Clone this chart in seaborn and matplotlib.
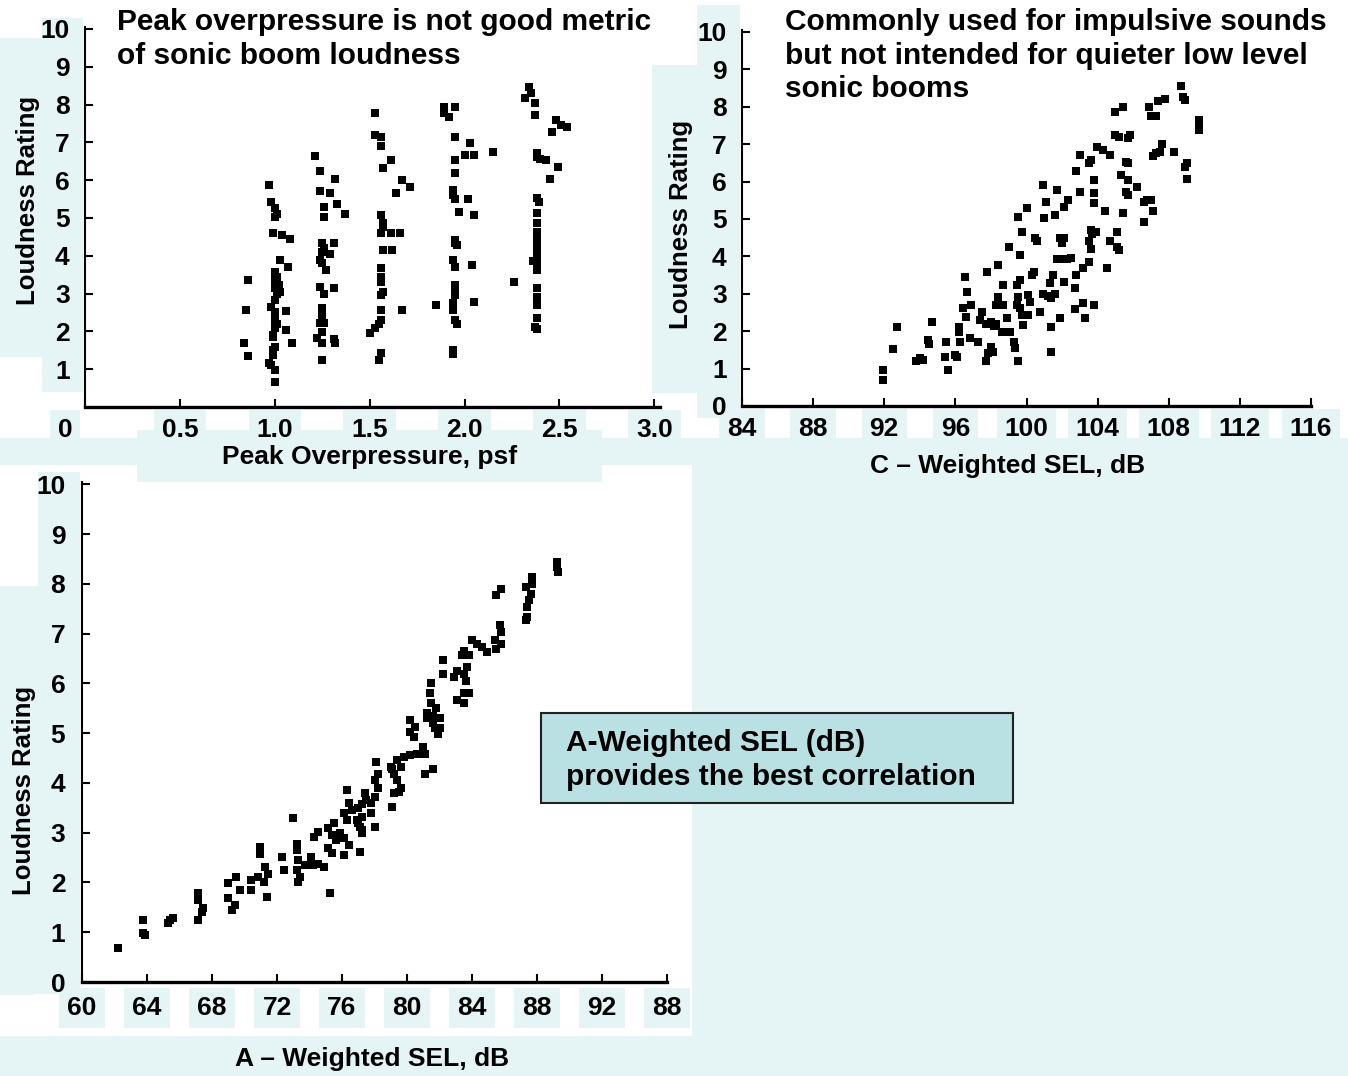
import matplotlib
matplotlib.use("Agg")
import matplotlib.pyplot as plt
import seaborn as sns
from matplotlib.patches import Rectangle
from matplotlib.transforms import ScaledTranslation

sns.set_theme(style="white")
plt.rcParams['font.family'] = ['Liberation Sans', 'DejaVu Sans']
plt.rcParams['font.weight'] = 'bold'

W, H = 1348, 1076
CYAN = '#e5f5f6'
BOX = '#b9e0e3'

# --- data ---
peak_x = [0.97, 0.98, 1.0, 1.0, 1.01, 0.99, 1.04, 1.08, 1.03, 1.07, 1.0, 1.0, 1.02, 1.01, 1.0, 1.03,
          1.0, 0.98, 1.0, 1.0, 0.99, 1.0, 0.99, 0.97, 1.0, 1.0, 0.86, 0.85, 0.84, 0.86, 1.06, 1.06,
          1.09, 0.99, 1.01, 0.98, 1.0, 1.01, 0.99,
          1.21, 1.24, 1.32, 1.24, 1.29, 1.26, 1.33, 1.37, 1.26, 1.25, 1.31, 1.25, 1.29, 1.25, 1.27,
          1.24, 1.31, 1.26, 1.25, 1.25, 1.24, 1.26, 1.25, 1.22, 1.25, 1.32, 1.31, 1.25, 1.25, 1.26, 1.24,
          1.53, 1.53, 1.56, 1.56, 1.61, 1.57, 1.67, 1.71, 1.64, 1.56, 1.57, 1.56, 1.61, 1.66, 1.57,
          1.56, 1.56, 1.57, 1.56, 1.56, 1.67, 1.56, 1.53, 1.50, 1.56, 1.55, 1.57, 1.56, 1.55, 1.62,
          1.89, 1.95, 1.89, 1.92, 1.95, 2.03, 2.05, 2.0, 2.15, 1.95, 1.95, 1.94, 1.95, 2.02, 1.97,
          2.05, 1.95, 1.96, 1.94, 1.95, 2.04, 1.95, 1.95, 1.94, 1.85, 2.05, 1.94, 1.95, 1.94, 1.94,
          1.95, 1.95, 1.96, 1.94,
          2.34, 2.32, 2.37, 2.37, 2.48, 2.54, 2.51, 2.46, 2.38, 2.43, 2.40, 2.49, 2.45, 2.38, 2.39,
          2.38, 2.38, 2.38, 2.38, 2.38, 2.38, 2.36, 2.38, 2.26, 2.38, 2.38, 2.38, 2.38, 2.37, 2.38,
          2.35, 2.38, 2.38, 2.38]
peak_y = [5.87, 5.43, 5.26, 5.03, 5.1, 4.6, 4.55, 4.45, 3.89, 3.7, 3.58, 3.36, 3.22, 3.0, 3.15, 3.05,
          2.83, 2.65, 2.3, 2.09, 1.9, 1.6, 1.38, 1.16, 0.98, 0.67, 3.36, 2.56, 1.70, 1.35, 2.54, 2.04,
          1.69, 1.5, 2.2, 1.1, 2.5, 3.45, 1.85,
          6.64, 6.23, 6.03, 5.72, 5.66, 5.3, 5.36, 5.1, 5.03, 4.33, 4.33, 4.1, 4.05, 3.8, 3.62,
          3.18, 3.14, 3.0, 2.62, 2.48, 2.22, 2.22, 1.99, 1.82, 1.69, 1.69, 1.8, 1.24, 2.35, 4.2, 3.9,
          7.78, 7.2, 7.15, 6.89, 6.53, 6.32, 6.0, 5.82, 5.66, 5.08, 4.87, 4.6, 4.6, 4.6, 4.15,
          3.68, 3.45, 3.05, 2.95, 2.57, 2.57, 2.3, 2.09, 1.96, 1.43, 1.24, 4.75, 3.3, 2.2, 4.15,
          7.94, 7.94, 7.78, 7.68, 7.15, 6.98, 6.67, 6.67, 6.75, 6.53, 6.18, 5.74, 5.5, 5.5, 5.17,
          5.08, 4.42, 4.29, 3.89, 3.71, 3.76, 3.23, 2.96, 2.76, 2.7, 2.79, 2.57, 2.3, 1.5, 1.4,
          4.35, 3.1, 2.2, 5.6,
          8.47, 8.17, 8.04, 7.72, 7.59, 7.41, 7.45, 7.28, 6.72, 6.53, 6.55, 6.35, 6.03, 5.53, 5.43,
          5.12, 4.86, 4.64, 4.42, 4.2, 3.84, 3.86, 3.62, 3.31, 3.14, 2.92, 2.7, 2.35, 2.12, 2.05,
          8.3, 6.62, 3.95, 4.0]

csel_x = [91.95, 91.95, 92.5, 92.74, 93.8, 94.2, 94.0, 94.48, 94.5, 94.67, 95.5, 95.4, 95.6, 96.0, 96.1,
          96.2, 96.2, 96.26, 96.45, 96.6, 96.55, 96.64, 96.8, 96.9, 97.3, 97.48, 97.4, 97.7, 98.0, 98.2,
          98.3, 97.76, 97.86, 97.7, 98.1, 98.0, 98.4, 98.4, 98.3, 98.7, 98.6, 98.9, 98.7, 98.9, 99.1,
          99.27, 99.36, 99.55, 99.45, 99.64, 99.55, 99.45, 99.64, 99.73, 99.8, 99.64, 99.55, 100.0, 99.73,
          99.0, 100.3, 100.4, 100.1, 100.2, 100.5, 100.6, 100.1, 100.77, 100.95, 101.1, 101.0, 100.95,
          101.2, 101.4, 101.6, 101.3, 101.5, 101.4, 101.4, 101.7, 101.6, 101.7, 102.0, 102.3, 102.5,
          101.9, 102.1, 102.0, 102.1, 101.9, 102.36, 102.1, 102.7, 102.8, 103.2, 103.5, 102.7, 103.2,
          103.8, 103.3, 102.8, 103.0, 103.0, 103.5, 103.6, 103.6, 103.7, 103.9, 103.5, 103.6, 103.8,
          103.8, 103.8, 103.95, 104.3, 104.7, 104.4, 104.5, 104.7, 105.1, 105.2, 105.1, 105.0, 105.2,
          105.0, 105.45, 105.3, 105.4, 105.6, 105.7, 105.8, 105.7, 105.7, 105.6, 105.7, 106.2, 106.6,
          106.8, 107.0, 107.1, 106.6, 106.9, 107.0, 107.3, 107.4, 107.8, 107.1, 107.3, 107.5, 107.6,
          108.3, 108.7, 108.8, 108.9, 109.0, 108.9, 109.0, 109.7, 109.7, 109.7]
csel_y = [0.69, 0.96, 1.52, 2.1, 1.2, 1.23, 1.27, 1.76, 1.65, 2.24, 1.72, 1.32, 0.96, 1.37, 1.3,
          1.99, 2.12, 1.72, 2.61, 2.39, 3.46, 3.06, 1.81, 2.7, 1.72, 2.52, 2.3, 2.2, 2.25, 2.15,
          2.2, 3.59, 1.41, 1.19, 1.45, 1.59, 3.77, 2.92, 2.7, 2.7, 1.99, 1.99, 3.24, 2.34, 1.99,
          1.72, 1.54, 1.19, 3.24, 3.37, 2.92, 2.7, 2.61, 2.43, 2.17, 4.04, 5.06, 5.28, 4.66,
          4.26, 3.5, 3.59, 2.97, 2.79, 4.48, 4.4, 2.43, 2.52, 5.91, 5.46, 5.02, 3.0,
          2.95, 2.9, 3.0, 3.28, 3.5, 2.12, 1.45, 5.77, 5.1, 3.93, 3.93, 3.93, 3.95,
          4.5, 4.5, 4.35, 3.32, 2.34, 5.5, 5.33, 3.15, 3.5, 3.7, 3.86, 2.6, 2.75,
          2.7, 2.34, 6.27, 6.71, 5.73, 6.49, 6.58, 4.7, 4.6, 4.65, 4.4, 4.2, 6.04,
          5.69, 5.42, 6.93, 6.84, 6.71, 5.2, 3.68, 4.4, 4.26, 4.17, 4.66, 7.25, 7.2,
          7.87, 7.99, 6.18, 5.15, 6.53, 6.5, 7.25, 7.16, 6.04, 5.73, 5.64, 5.86, 5.46,
          5.51, 5.51, 5.2, 4.93, 8.0, 7.74, 7.74, 8.14, 8.21, 6.67, 6.75, 6.8, 7.0,
          6.8, 8.54, 8.27, 8.18, 6.49, 6.4, 6.07, 7.65, 7.51, 7.38]

asel_x = [62.24, 63.77, 63.77, 63.88, 65.4, 65.6, 65.3, 67.16, 67.16, 67.47, 67.16, 67.4, 69.0, 69.5,
          69.7, 69.0, 69.2, 69.4, 70.4, 70.4, 70.85, 71.26, 71.47, 70.95, 70.95, 71.37, 71.2, 72.3,
          72.4, 73.0, 73.2, 73.2, 73.3, 73.2, 73.4, 73.3, 73.7, 74.1, 74.2, 74.3, 74.5, 74.5, 74.9,
          75.16, 75.4, 75.6, 75.16, 75.4, 76.1, 76.4, 75.26, 76.1, 77.1, 75.5, 75.9, 76.3, 76.4,
          76.6, 76.1, 76.3, 76.9, 77.1, 77.2, 77.4, 77.2, 77.0, 77.2, 77.8, 78.0, 77.5, 77.0, 77.2,
          78.0, 78.2, 78.1, 79.06, 79.06, 78.2, 78.0, 77.8, 79.2, 79.5, 79.6, 79.4, 79.2, 79.0,
          79.6, 79.4, 79.8, 80.2, 80.6, 81.0, 81.1, 81.1, 81.6, 80.2, 80.5, 80.2, 80.4, 81.6,
          81.7, 81.9, 82.0, 81.5, 81.4, 81.5, 81.8, 81.2, 81.6, 82.0, 81.2, 82.2, 82.2, 82.9,
          83.06, 83.5, 83.06, 83.8, 83.5, 83.5, 83.4, 83.8, 83.7, 83.5, 83.6, 84.0, 84.3, 84.6,
          84.9, 85.7, 85.8, 85.8, 85.5, 85.4, 85.8, 85.5, 87.3, 87.7, 87.7, 87.6, 87.5, 87.4,
          87.4, 87.3, 89.2, 89.3, 89.2]
asel_y = [0.68, 1.24, 0.98, 0.94, 1.24, 1.28, 1.18, 1.78, 1.65, 1.48, 1.24, 1.4, 1.98, 2.11,
          1.85, 1.68, 1.45, 1.55, 2.05, 1.85, 2.11, 2.32, 2.18, 2.72, 2.58, 1.71, 2.0, 2.52,
          2.25, 3.29, 2.78, 2.65, 2.45, 2.25, 2.11, 2.0, 2.35, 2.52, 2.35, 2.92, 3.02, 2.38, 2.32,
          3.1, 2.95, 2.85, 2.7, 2.6, 2.9, 2.75, 1.78, 2.55, 2.62, 3.19, 2.99, 3.85, 3.6,
          3.45, 3.39, 3.25, 3.25, 3.12, 3.58, 3.79, 3.32, 3.19, 3.05, 3.39, 3.12, 3.65, 3.49, 2.99,
          4.06, 4.19, 4.42, 4.29, 3.52, 3.89, 3.72, 3.59, 3.79, 3.82, 3.89, 4.06, 4.19, 4.32,
          4.32, 4.46, 4.52, 4.56, 4.59, 4.72, 4.59, 4.19, 4.29, 5.26, 5.13, 5.03, 4.93, 5.2,
          5.1, 4.99, 5.1, 6.0, 5.8, 5.6, 5.5, 5.4, 5.35, 5.3, 5.3, 6.47, 6.2, 6.13,
          6.26, 5.8, 5.66, 5.8, 5.6, 6.66, 6.57, 6.57, 6.33, 6.2, 6.06, 6.87, 6.8, 6.73,
          6.63, 7.17, 7.03, 6.8, 6.7, 6.87, 7.9, 7.77, 7.94, 8.14, 8.0, 7.8, 7.67, 7.54,
          7.33, 7.27, 8.34, 8.24, 8.45]

peak_ticks = [0, 0.5, 1.0, 1.5, 2.0, 2.5, 3.0]
peak_labels = ['0', '0.5', '1.0', '1.5', '2.0', '2.5', '3.0']
csel_ticks = [84, 88, 92, 96, 100, 104, 108, 112, 116]
asel_ticks = [60, 64, 68, 72, 76, 80, 84, 88, 92, 96]
asel_labels = ['60', '64', '68', '72', '76', '80', '84', '88', '92', '88']

fig = plt.figure(figsize=(W / 100, H / 100), dpi=100)
fig.patch.set_facecolor('white')


def pax(l, t, r, b):
    return fig.add_axes([l / W, 1 - b / H, (r - l) / W, (b - t) / H])


def bg(x0, y0, x1, y1, fc=CYAN, ec='none', lw=0, z=-5):
    fig.add_artist(Rectangle((x0 / W, 1 - y1 / H), (x1 - x0) / W, (y1 - y0) / H,
                             transform=fig.transFigure, fc=fc, ec=ec, lw=lw, zorder=z))


def ftext(x, y, s, **kw):
    fig.text(x / W, 1 - y / H, s, color='black', fontweight='bold', **kw)


# light cyan background scraps
for r in [(0, 38, 80, 357), (42, 18, 83, 392), (0, 438, 692, 465), (137, 430, 602, 482),
          (652, 65, 697, 393), (697, 5, 740, 418), (692, 438, 1348, 1076),
          (0, 586, 80, 994), (38, 472, 80, 994), (0, 960, 34, 995), (0, 1036, 692, 1076)]:
    bg(*r)


def style(ax, xlim, ylim, xticks, xlabels, yticks, ylabels, xpad, ypad):
    ax.set_facecolor('none')
    sns.despine(ax=ax)
    ax.set_xlim(xlim)
    ax.set_ylim(ylim)
    ax.set_xticks(xticks, xlabels)
    ax.set_yticks(yticks, ylabels)
    ax.tick_params(direction='in', length=6, width=1.5, color='black', labelsize=19,
                   labelcolor='black', bottom=True, left=True)
    ax.tick_params(axis='x', pad=xpad)
    ax.tick_params(axis='y', pad=ypad)
    for side, lw in [('left', 1.5), ('bottom', 2.4)]:
        ax.spines[side].set_color('black')
        ax.spines[side].set_linewidth(lw)
    for lab in ax.get_xticklabels():
        lab.set_fontweight('bold')
        lab.set_bbox(dict(boxstyle='square,pad=0.3', fc=CYAN, ec='none'))
    for lab in ax.get_yticklabels():
        lab.set_fontweight('bold')
    ax.set_xlabel('')
    ax.set_ylabel('')


mk = dict(marker='s', s=30, color='black', linewidth=0, legend=False)

ax1 = pax(85, 27, 660, 407)
sns.scatterplot(x=peak_x, y=peak_y, ax=ax1, **mk)
style(ax1, (0, 3.03), (0, 10.05), peak_ticks, peak_labels, range(1, 11),
      [str(v) for v in range(1, 11)], 8, 11)
zero = ax1.get_xticklabels()[0]
zero.set_transform(zero.get_transform() + ScaledTranslation(-0.2, 0, fig.dpi_scale_trans))

ax2 = pax(742, 30, 1311, 406)
sns.scatterplot(x=csel_x, y=csel_y, ax=ax2, **mk)
style(ax2, (84, 116), (0, 10.05), csel_ticks, [str(v) for v in csel_ticks], range(0, 11),
      [str(v) for v in range(0, 11)], 8, 11)

ax3 = pax(82, 482, 667, 982)
sns.scatterplot(x=asel_x, y=asel_y, ax=ax3, **dict(mk, s=40))
style(ax3, (60, 96), (0, 10.05), asel_ticks, asel_labels, range(0, 11),
      [str(v) for v in range(0, 11)], 10, 12)

# axis labels
ftext(370, 457, 'Peak Overpressure, psf', fontsize=19, ha='center', va='center')
ftext(1008, 466, 'C \u2013 Weighted SEL, dB', fontsize=19, ha='center', va='center')
ftext(372, 1059, 'A \u2013 Weighted SEL, dB', fontsize=19, ha='center', va='center')
ftext(28, 200, 'Loudness Rating', fontsize=18.5, ha='center', va='center', rotation=90)
ftext(681, 224, 'Loudness Rating', fontsize=18.5, ha='center', va='center', rotation=90)
ftext(24, 790, 'Loudness Rating', fontsize=18.5, ha='center', va='center', rotation=90)

# panel notes
ftext(117, 8, 'Peak overpressure is not good metric\nof sonic boom loudness',
      fontsize=21.5, ha='left', va='top', linespacing=1.25)
ftext(785, 8, 'Commonly used for impulsive sounds\nbut not intended for quieter low level\nsonic booms',
      fontsize=21.5, ha='left', va='top', linespacing=1.25)

# call-out box
bg(541, 713, 1013, 803, fc=BOX, ec='#222222', lw=1.5, z=5)
ftext(566, 760, 'A-Weighted SEL (dB)\nprovides the best correlation',
      fontsize=21.5, ha='left', va='center', linespacing=1.25, zorder=6)

fig.savefig('out.png', dpi=100)
